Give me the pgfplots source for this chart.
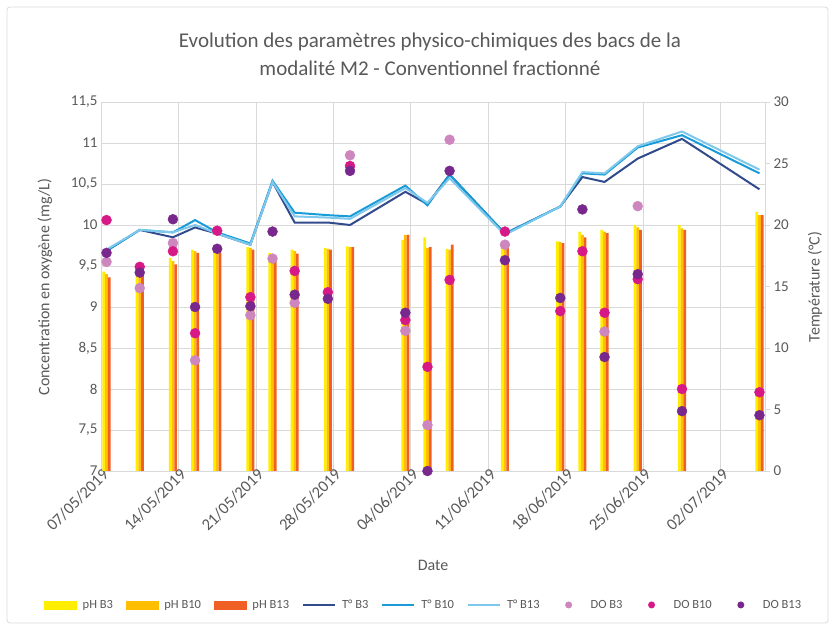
\documentclass[border=0pt]{standalone}
\usepackage{pgfplots}
\usepackage{pgfplotstable}
\pgfplotsset{compat=1.18}
\usepackage{fontspec}
\setmainfont{Carlito}
\definecolor{phA}{RGB}{255,238,0}
\definecolor{phB}{RGB}{255,190,0}
\definecolor{phC}{RGB}{240,95,35}
\definecolor{tA}{RGB}{50,75,140}
\definecolor{tB}{RGB}{25,155,215}
\definecolor{tC}{RGB}{125,200,235}
\definecolor{doA}{RGB}{205,135,190}
\definecolor{doB}{RGB}{215,25,135}
\definecolor{doC}{RGB}{120,40,140}
\definecolor{gridc}{RGB}{217,217,217}
\definecolor{textc}{RGB}{89,89,89}

\pgfplotstableread{
x    phA   phB   phC   doA   doB   doC   tA   tB   tC
0.5  9.43  9.40  9.36  9.55  10.06 9.66  17.9 17.9 18.0
3.5  9.50  9.48  9.46  9.23  9.49  9.42  19.6 19.6 19.6
6.5  9.60  9.56  9.52  9.78  9.68  10.07 19.0 19.4 19.4
8.5  9.70  9.68  9.66  8.35  8.68  9.00  19.8 20.4 20.0
10.5 9.70  9.68  9.66  nan   9.93  9.71  19.3 19.4 19.3
13.5 9.73  9.72  9.70  8.90  9.12  9.01  18.4 18.5 18.4
15.5 9.66  9.64  9.62  9.59  nan   9.92  23.5 23.6 23.5
17.5 9.70  9.68  9.65  9.05  9.44  9.15  20.2 21.0 20.7
20.5 9.72  9.71  9.70  nan   9.18  9.10  20.2 20.8 20.6
22.5 9.74  9.73  9.73  10.85 10.72 10.66 20.0 20.7 20.5
27.5 9.82  9.88  9.88  8.71  8.84  8.93  22.7 23.2 23.0
29.5 9.85  9.72  9.73  7.56  8.27  7.00  21.7 21.6 21.8
31.5 9.71  9.70  9.76  11.04 9.33  10.66 24.1 24.1 23.8
36.5 9.75  9.75  9.75  9.76  9.92  9.57  19.3 19.3 19.2
41.5 9.80  9.79  9.78  nan   8.95  9.11  21.5 21.5 21.5
43.5 9.92  9.88  9.85  nan   9.68  10.19 23.9 24.2 24.3
45.5 9.94  9.92  9.90  8.70  8.93  8.39  23.5 24.1 24.2
48.5 10.00 9.97  9.94  10.23 9.34  9.40  25.4 26.3 26.4
52.5 10.00 9.96  9.94  nan   8.00  7.73  27.0 27.3 27.6
59.5 10.16 10.12 10.12 nan   7.96  7.68  22.9 24.2 24.5
}\data

\begin{document}
\begin{tikzpicture}
\useasboundingbox (0pt,0pt) rectangle (835pt,628pt);
\draw[color=gridc, line width=0.8pt, rounded corners=3pt] (7pt,5pt) rectangle (828pt,621pt);

\begin{axis}[
  at={(101pt,157pt)}, anchor=south west, scale only axis,
  width=664pt, height=369pt,
  xmin=0, xmax=60, ymin=7, ymax=11.5,
  axis line style={draw=gridc, line width=0.8pt},
  ytick={7,7.5,8,8.5,9,9.5,10,10.5,11,11.5},
  yticklabels={7,{7,5},8,{8,5},9,{9,5},10,{10,5},11,{11,5}},
  xtick={0.5,7.5,14.5,21.5,28.5,35.5,42.5,49.5,56.5},
  xticklabels={07/05/2019,14/05/2019,21/05/2019,28/05/2019,04/06/2019,11/06/2019,18/06/2019,25/06/2019,02/07/2019},
  minor xtick={0,7,14,21,28,35,42,49,56},
  xminorgrids=true, ymajorgrids=true, xmajorgrids=false,
  grid style={draw=gridc, line width=0.8pt},
  minor grid style={draw=gridc, line width=0.8pt},
  major tick length=0pt, minor tick length=0pt,
  tick label style={font=\fontsize{15}{18}\selectfont, text=textc},
  x tick label style={rotate=45, anchor=east, inner sep=1pt, font=\fontsize{16.5}{18}\selectfont},
]
\addplot[ybar, bar width=2.7pt, bar shift=-2.7pt, fill=phA, draw=none] table[x=x,y=phA]{\data};
\addplot[ybar, bar width=2.7pt, bar shift=0pt, fill=phB, draw=none] table[x=x,y=phB]{\data};
\addplot[ybar, bar width=2.7pt, bar shift=2.7pt, fill=phC, draw=none] table[x=x,y=phC]{\data};
\end{axis}

\begin{axis}[
  at={(101pt,157pt)}, anchor=south west, scale only axis,
  width=664pt, height=369pt,
  xmin=0, xmax=60, ymin=0, ymax=30,
  axis x line=none,
  axis y line*=right,
  axis line style={draw=gridc, line width=0.8pt},
  ytick={0,5,10,15,20,25,30},
  ytick style={draw=gridc, line width=0.8pt},
  major tick length=5pt,
  tick align=outside,
  tick label style={font=\fontsize{15}{18}\selectfont, text=textc},
  /pgf/number format/assume math mode=true,
]
\addplot[tA, line width=2pt, no marks] table[x=x,y=tA]{\data};
\addplot[tB, line width=2pt, no marks] table[x=x,y=tB]{\data};
\addplot[tC, line width=2pt, no marks] table[x=x,y=tC]{\data};
\end{axis}

\begin{axis}[
  at={(101pt,157pt)}, anchor=south west, scale only axis,
  width=664pt, height=369pt,
  xmin=0, xmax=60, ymin=7, ymax=11.5,
  hide axis, clip=false,
  legend columns=9,
  legend style={at={(0.486,-0.363)}, anchor=center, draw=none, fill=none,
    font=\fontsize{12.5}{15}\selectfont, text=textc,
    /tikz/every odd column/.append style={column sep=4pt},
    /tikz/every even column/.append style={column sep=11pt}},
  legend cell align=left,
]
\addlegendimage{legend image code/.code={\fill[phA] (0pt,-4pt) rectangle (32pt,4pt);}}
\addlegendentry{pH B3}
\addlegendimage{legend image code/.code={\fill[phB] (0pt,-4pt) rectangle (32pt,4pt);}}
\addlegendentry{pH B10}
\addlegendimage{legend image code/.code={\fill[phC] (0pt,-4pt) rectangle (32pt,4pt);}}
\addlegendentry{pH B13}
\addlegendimage{legend image code/.code={\draw[tA, line width=2pt] (0pt,0pt) -- (32pt,0pt);}}
\addlegendentry{T° B3}
\addlegendimage{legend image code/.code={\draw[tB, line width=2pt] (0pt,0pt) -- (32pt,0pt);}}
\addlegendentry{T° B10}
\addlegendimage{legend image code/.code={\draw[tC, line width=2pt] (0pt,0pt) -- (32pt,0pt);}}
\addlegendentry{T° B13}
\addplot[only marks, mark=*, mark size=5pt, doA, draw=none, legend image code/.code={\path (0pt,0pt) -- (32pt,0pt); \fill[doA] (16pt,0pt) circle (3.5pt);}] table[x=x,y=doA]{\data};
\addlegendentry{DO B3}
\addplot[only marks, mark=*, mark size=5pt, doB, draw=none, legend image code/.code={\path (0pt,0pt) -- (32pt,0pt); \fill[doB] (16pt,0pt) circle (3.5pt);}] table[x=x,y=doB]{\data};
\addlegendentry{DO B10}
\addplot[only marks, mark=*, mark size=5pt, doC, draw=none, legend image code/.code={\path (0pt,0pt) -- (32pt,0pt); \fill[doC] (16pt,0pt) circle (3.5pt);}] table[x=x,y=doC]{\data};
\addlegendentry{DO B13}
\end{axis}

\node[text=textc, font=\fontsize{21}{28}\selectfont, align=center] at (430pt,574pt)
  {Evolution des paramètres physico-chimiques des bacs de la\\modalité M2 - Conventionnel fractionné};
\node[text=textc, font=\fontsize{16}{19}\selectfont, rotate=90] at (45pt,341pt) {Concentration en oxygène (mg/L)};
\node[text=textc, font=\fontsize{16}{19}\selectfont, rotate=90] at (815pt,341pt) {Température (°C)};
\node[text=textc, font=\fontsize{16}{19}\selectfont] at (433pt,63pt) {Date};
\end{tikzpicture}
\end{document}
